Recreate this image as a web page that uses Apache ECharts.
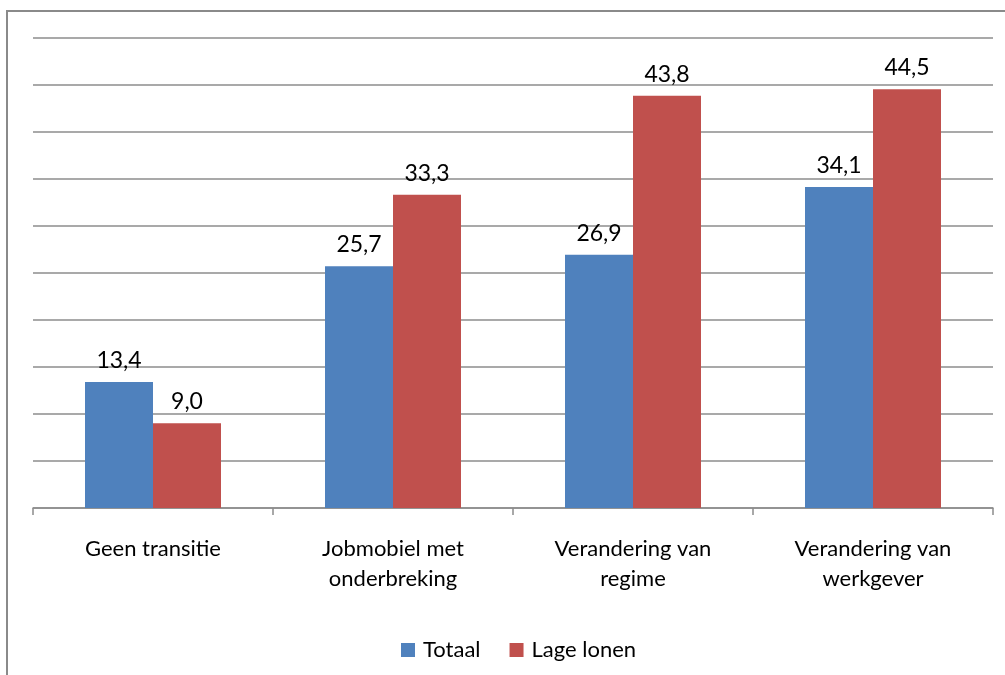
<!DOCTYPE html>
<html>
<head>
<meta charset="utf-8">
<script src="https://cdn.jsdelivr.net/npm/echarts@6/dist/echarts.min.js"></script>
<style>
html,body{margin:0;padding:0;background:#fff;}
#chart{width:1005px;height:675px;}
</style>
</head>
<body>
<div id="chart"></div>
<script>
const categories = ["Geen transitie", "Jobmobiel met\nonderbreking", "Verandering van\nregime", "Verandering van\nwerkgever"];
const totaal = [13.4, 25.7, 26.9, 34.1];
const lageLonen = [9.0, 33.3, 43.8, 44.5];
const seriesNames = ["Totaal", "Lage lonen"];

const FONT = "Lato";
const fmt = p => p.value.toFixed(1).replace('.', ',');

const chart = echarts.init(document.getElementById('chart'));
chart.setOption({
  animation: false,
  textStyle: { fontFamily: FONT },
  graphic: [{
    type: 'rect',
    shape: { x: 7, y: 11, width: 1200, height: 1000 },
    style: { fill: 'none', stroke: '#8a8a8a', lineWidth: 2 },
    silent: true
  }],
  grid: { left: 33, right: 12, top: 37.5, bottom: 167, containLabel: false },
  legend: {
    top: 634,
    left: 396,
    icon: 'rect',
    itemWidth: 14,
    itemHeight: 14,
    itemGap: 29,
    textStyle: { fontSize: 22, color: '#000', fontFamily: FONT, padding: [0, 0, 0, 3] },
    data: seriesNames
  },
  xAxis: {
    type: 'category',
    data: categories,
    axisLine: { show: true, lineStyle: { color: '#8c8c8c', width: 1.5 } },
    axisTick: { show: true, length: 7, lineStyle: { color: '#8c8c8c', width: 1.5 } },
    axisLabel: { color: '#000', fontSize: 22, margin: 26, lineHeight: 30, fontFamily: FONT, interval: 0 }
  },
  yAxis: {
    type: 'value',
    min: 0, max: 50, interval: 5,
    axisLine: { show: false },
    axisTick: { show: false },
    axisLabel: { show: false },
    splitLine: { show: true, lineStyle: { color: '#8c8c8c', width: 1.5 } }
  },
  series: [
    {
      name: seriesNames[0], type: 'bar', data: totaal,
      barWidth: 68, barGap: '0%',
      itemStyle: { color: '#4f81bd' },
      label: { show: true, position: 'top', distance: 10, color: '#000', fontSize: 23, fontFamily: FONT, formatter: fmt }
    },
    {
      name: seriesNames[1], type: 'bar', data: lageLonen,
      barWidth: 68, barGap: '0%',
      itemStyle: { color: '#c0504d' },
      label: { show: true, position: 'top', distance: 10, color: '#000', fontSize: 23, fontFamily: FONT, formatter: fmt }
    }
  ]
});
</script>
</body>
</html>
